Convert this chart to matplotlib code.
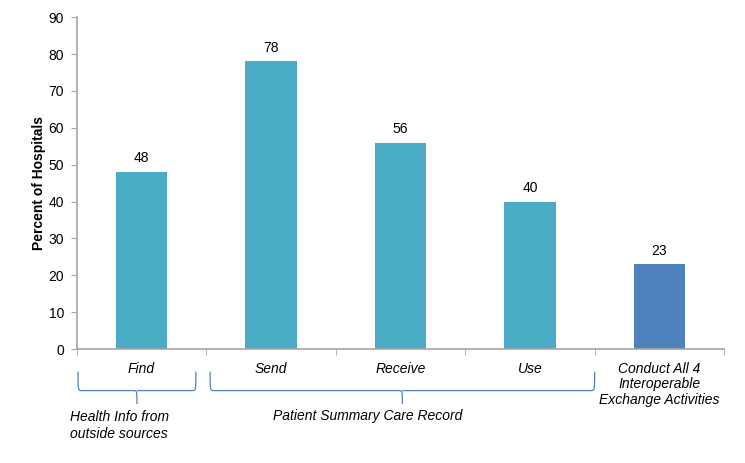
import numpy as np
import matplotlib
matplotlib.use('Agg')
import matplotlib.pyplot as plt
from matplotlib.path import Path
from matplotlib.patches import PathPatch
import matplotlib.transforms as mtransforms

plt.rcParams['font.family'] = ['Liberation Sans', 'DejaVu Sans']

categories = ['Find', 'Send', 'Receive', 'Use', 'Conduct All 4\nInteroperable\nExchange Activities']
values = [48, 78, 56, 40, 23]
colors = ['#4BACC6', '#4BACC6', '#4BACC6', '#4BACC6', '#4F81BD']
groups = [('Health Info from\noutside sources', -0.49, 0.42), ('Patient Summary Care Record', 0.53, 3.5)]

fig = plt.figure(figsize=(7.45, 4.63), dpi=100)
ax = fig.add_axes([0.103, 0.246, 0.869, 0.717])

x = np.arange(len(categories))
ax.bar(x, values, width=0.4, color=colors)
for xi, v in zip(x, values):
    ax.text(xi, v + 1.8, str(v), ha='center', va='bottom', fontsize=10)

ax.set_xlim(-0.5, len(categories) - 0.5)
ax.set_ylim(0, 90)
ax.set_yticks(np.arange(0, 91, 10))
ax.set_xticks(x)
ax.set_xticklabels(categories, fontstyle='italic', fontsize=10, linespacing=1.15, va='top')
ax.tick_params(axis='x', length=0, pad=9)
ax.set_xticks(np.arange(-0.5, len(categories), 1), minor=True)
ax.tick_params(axis='x', which='minor', length=4, color='#A6A6A6')
ax.tick_params(axis='y', length=4, color='#A6A6A6', labelsize=10, pad=5)
ax.set_ylabel('Percent of Hospitals', fontweight='bold', fontsize=10, labelpad=2)

for s in ['top', 'right']:
    ax.spines[s].set_visible(False)
for s in ['left', 'bottom']:
    ax.spines[s].set_color('#A6A6A6')
    ax.spines[s].set_linewidth(1.2)

# braces under the category labels
trans = mtransforms.blended_transform_factory(ax.transData, ax.transAxes)
y_top, y_mid, y_tip = -0.068, -0.125, -0.165
for name, x0, x1 in groups:
    xm = (x0 + x1) / 2
    r = 0.03
    verts = [(x0, y_top), (x0, y_mid), (x0, y_mid), (x0 + r, y_mid),
             (xm - r, y_mid), (xm, y_mid), (xm, y_mid), (xm, y_tip),
             (xm, y_mid), (xm, y_mid), (xm + r, y_mid),
             (x1 - r, y_mid), (x1, y_mid), (x1, y_mid), (x1, y_top)]
    codes = [Path.MOVETO, Path.CURVE4, Path.CURVE4, Path.CURVE4,
             Path.LINETO, Path.CURVE4, Path.CURVE4, Path.CURVE4,
             Path.MOVETO, Path.CURVE4, Path.CURVE4,
             Path.LINETO, Path.CURVE4, Path.CURVE4, Path.CURVE4]
    ax.add_patch(PathPatch(Path(verts, codes), transform=trans, fill=False,
                           edgecolor='#4F81BD', linewidth=0.9, clip_on=False))

fig.text(70 / 745, 1 - 410 / 463, groups[0][0], ha='left', va='top',
         fontstyle='italic', fontsize=10, linespacing=1.3)
fig.text(368 / 745, 1 - 416 / 463, groups[1][0], ha='center', va='center',
         fontstyle='italic', fontsize=10)

fig.savefig('out.png', dpi=100, facecolor='white')
